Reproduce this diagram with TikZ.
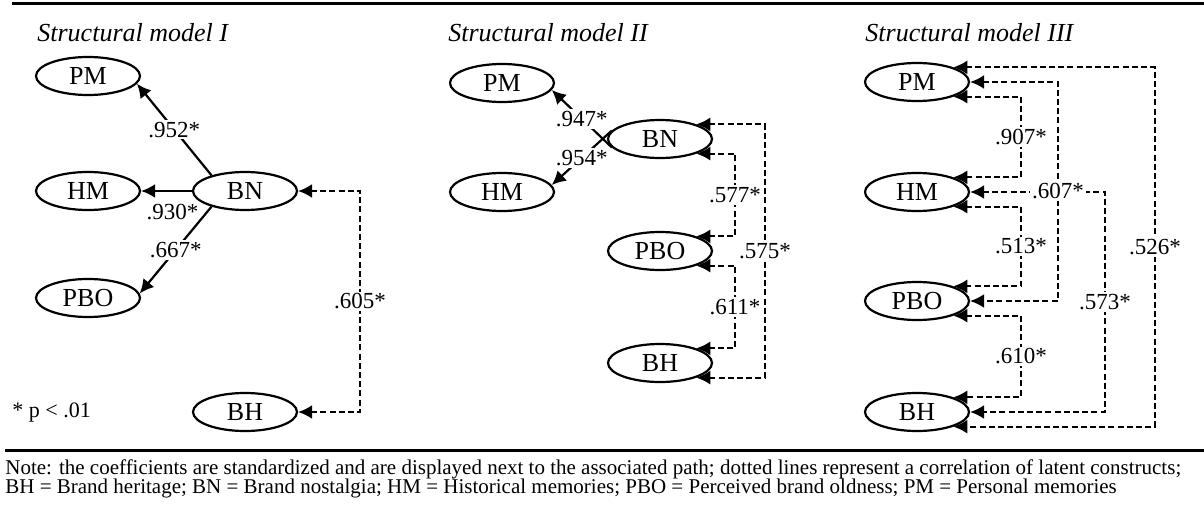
\documentclass[tikz,border=0pt]{standalone}
\usepackage{fontspec}
\setmainfont{Liberation Serif}
\usetikzlibrary{calc,shapes,arrows.meta}

\tikzset{
    latent/.style={draw,ellipse,line width=1.1pt,minimum width=52pt,minimum height=19pt,
        inner sep=0pt,font=\fontsize{13}{13}\selectfont},
    effect/.style={line width=1.1pt,-{Latex[length=7pt,width=7pt]}},
    corr/.style={line width=1.1pt,dash pattern=on 3pt off 1.6pt,
        {Latex[length=7pt,width=7pt]}-{Latex[length=7pt,width=7pt]}},
    coef/.style={fill=white,inner sep=1pt,font=\fontsize{11.5}{11.5}\selectfont},
    heading/.style={anchor=west,inner sep=0pt,font=\itshape\fontsize{13}{13}\selectfont}
}

\begin{document}
\begin{tikzpicture}[x=0.5pt,y=-0.5pt]
    \useasboundingbox (0,0) rectangle (1204,508);
    \draw[line width=1.5pt] (12,4) -- (1204,4);
    \draw[line width=1.5pt] (5,450) -- (1204,450);

    % model I
    \node[heading] (t1) at (37,33) {Structural model I};
    \foreach \n/\y in {PM/76,HM/191,PBO/298}
        \node[latent] (\n1) at (88,\y) {\n};
    \node[latent] (BN1) at (245,191) {BN};
    \node[latent] (BH1) at (245,412) {BH};
    \coordinate (x1) at (360,0);
    \draw[effect] (BN1.155) -- (PM1.-9) node[coef,midway] {.952*};
    \draw[effect] (BN1.west) -- (HM1.east) node[coef,midway,below=5pt,xshift=3pt] {.930*};
    \draw[effect] (BN1.-155) -- (PBO1.5) node[coef,midway] {.667*};
    \draw[corr] (BN1.east) -| (BH1.east -| x1) node[coef,pos=.75] {.605*} -- (BH1.east);
    \node[anchor=west,inner sep=0pt,font=\fontsize{11}{11}\selectfont] (sig) at (12,413) {* p < .01};

    % model II
    \node[heading] (t2) at (448,33) {Structural model II};
    \foreach \n/\y in {PM/83,HM/192}
        \node[latent] (\n2) at (502,\y) {\n};
    \foreach \n/\y in {BN/139,PBO/251,BH/363}
        \node[latent] (\n2) at (660,\y) {\n};
    \coordinate (x2a) at (735,0);
    \coordinate (x2b) at (765,0);
    \draw[effect] (BN2.190) -- (PM2.-8) node[coef,midway] {.947*};
    \draw[effect] (BN2.170) -- (HM2.8) node[coef,midway] {.954*};
    \draw[corr] (BN2.22) -| (BH2.-22 -| x2b) node[coef,pos=.75] {.575*} -- (BH2.-22);
    \draw[corr] (BN2.-22) -| (PBO2.22 -| x2a) node[coef,pos=.75] {.577*} -- (PBO2.22);
    \draw[corr] (PBO2.-22) -| (BH2.22 -| x2a) node[coef,pos=.75] {.611*} -- (BH2.22);

    % model III
    \node[heading] (t3) at (865,33) {Structural model III};
    \foreach \n/\y in {PM/82,HM/192,PBO/301,BH/412}
        \node[latent] (\n3) at (917,\y) {\n};
    \coordinate (x3a) at (1021,0);
    \coordinate (x3b) at (1058,0);
    \coordinate (x3c) at (1105,0);
    \coordinate (x3d) at (1155,0);
    \draw[corr] (PM3.-22) -| (HM3.22 -| x3a) node[coef,pos=.75] {.907*} -- (HM3.22);
    \draw[corr] (HM3.-22) -| (PBO3.22 -| x3a) node[coef,pos=.75] {.513*} -- (PBO3.22);
    \draw[corr] (PBO3.-22) -| (BH3.22 -| x3a) node[coef,pos=.75] {.610*} -- (BH3.22);
    \draw[corr] (HM3.east) -| (BH3.east -| x3c) node[coef,pos=.75] {.573*} -- (BH3.east);
    \draw[corr] (PM3.east) -| (PBO3.east -| x3b) node[coef,pos=.75] {.607*} -- (PBO3.east);
    \draw[corr] (PM3.22) -| (BH3.-22 -| x3d) node[coef,pos=.75] {.526*} -- (BH3.-22);

    % note
    \node[anchor=base west,inner sep=0pt,font=\fontsize{10.5}{10.5}\selectfont] (note1) at (5,474)
        {Note: the coefficients are standardized and are displayed next to the associated path; dotted lines represent a correlation of latent constructs;};
    \node[anchor=base west,inner sep=0pt,font=\fontsize{10.5}{10.5}\selectfont] (note2) at (5,493)
        {BH = Brand heritage; BN = Brand nostalgia; HM = Historical memories; PBO = Perceived brand oldness; PM = Personal memories};
\end{tikzpicture}
\end{document}
